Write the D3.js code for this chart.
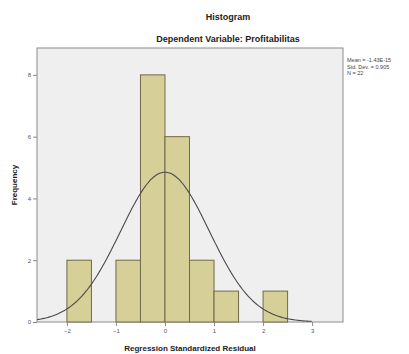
<!DOCTYPE html>
<html>
<head>
<meta charset="utf-8">
<script src="https://cdn.jsdelivr.net/npm/d3@7"></script>
<style>
  body { margin: 0; background: #fff; }
  svg { display: block; font-family: "Liberation Sans", Arial, sans-serif; }
  .tick text { fill: #555; font-size: 6px; }
  .tick line, .domain { stroke: #888; }
</style>
</head>
<body>
<div id="chart"></div>
<script>
// histogram bins (lower edge, upper edge) and counts
const binStarts = [-2.0, -1.0, -0.5, 0.0, 0.5, 1.0, 2.0];
const binWidth = 0.5;
const counts = [2, 2, 8, 6, 2, 1, 1];
const xTicks = [-2, -1, 0, 1, 2, 3];
const yTicks = [0, 2, 4, 6, 8];
const statLines = ['Mean = -1.43E-15', 'Std. Dev. = 0.905', 'N = 22'];
const mean = 0;
const sd = 0.905;
const n = 22;

const width = 409, height = 354;
const plot = { left: 37, right: 343, top: 48, bottom: 322 };

const svg = d3.select('#chart').append('svg')
    .attr('width', width)
    .attr('height', height);

const x = d3.scaleLinear().domain([-2.61, 3.63]).range([plot.left, plot.right]);
const y = d3.scaleLinear().domain([0, 8.87]).range([plot.bottom, plot.top]);

// plot background
svg.append('rect')
    .attr('x', plot.left)
    .attr('y', plot.top)
    .attr('width', plot.right - plot.left)
    .attr('height', plot.bottom - plot.top)
    .attr('fill', '#efefef')
    .attr('stroke', '#8c8c8c')
    .attr('stroke-width', 1);

// bars
svg.selectAll('.bar')
    .data(binStarts)
    .enter()
    .append('rect')
    .attr('class', 'bar')
    .attr('x', d => x(d))
    .attr('width', d => x(d + binWidth) - x(d))
    .attr('y', (d, i) => y(counts[i]))
    .attr('height', (d, i) => y(0) - y(counts[i]))
    .attr('fill', '#d6cf98')
    .attr('stroke', '#6f6a48')
    .attr('stroke-width', 1);

// normal curve
const normalY = v => n * binWidth * Math.exp(-0.5 * ((v - mean) / sd) ** 2) / (sd * Math.sqrt(2 * Math.PI));
const curvePts = d3.range(x.domain()[0], 3.0, 0.02);
svg.append('path')
    .datum(curvePts)
    .attr('fill', 'none')
    .attr('stroke', '#4a4a4a')
    .attr('stroke-width', 1.1)
    .attr('d', d3.line().x(d => x(d)).y(d => y(normalY(d))));

// axes
const xAxis = svg.append('g')
    .attr('transform', `translate(0,${plot.bottom})`)
    .call(d3.axisBottom(x).tickValues(xTicks).tickSize(4).tickPadding(3).tickFormat(d3.format('d')));
xAxis.select('.domain').remove();

const yAxis = svg.append('g')
    .attr('transform', `translate(${plot.left},0)`)
    .call(d3.axisLeft(y).tickValues(yTicks).tickSize(4).tickPadding(2).tickFormat(d3.format('d')));
yAxis.select('.domain').remove();

// titles
svg.append('text')
    .attr('x', 228).attr('y', 20)
    .attr('text-anchor', 'middle')
    .attr('font-size', 9).attr('font-weight', 'bold').attr('fill', '#222')
    .text('Histogram');
svg.append('text')
    .attr('x', 228).attr('y', 42)
    .attr('text-anchor', 'middle')
    .attr('font-size', 9).attr('font-weight', 'bold').attr('fill', '#222')
    .text('Dependent Variable: Profitabilitas');

svg.append('text')
    .attr('x', 190).attr('y', 351)
    .attr('text-anchor', 'middle')
    .attr('font-size', 8).attr('font-weight', 'bold').attr('fill', '#222')
    .text('Regression Standardized Residual');
svg.append('text')
    .attr('transform', `translate(17,${(plot.top + plot.bottom) / 2}) rotate(-90)`)
    .attr('text-anchor', 'middle')
    .attr('font-size', 8).attr('font-weight', 'bold').attr('fill', '#222')
    .text('Frequency');

// stats legend
svg.selectAll('.stat')
    .data(statLines)
    .enter()
    .append('text')
    .attr('class', 'stat')
    .attr('x', 347)
    .attr('y', (d, i) => 62 + i * 6.5)
    .attr('font-size', 5.5).attr('fill', '#444')
    .text(d => d);
</script>
</body>
</html>
